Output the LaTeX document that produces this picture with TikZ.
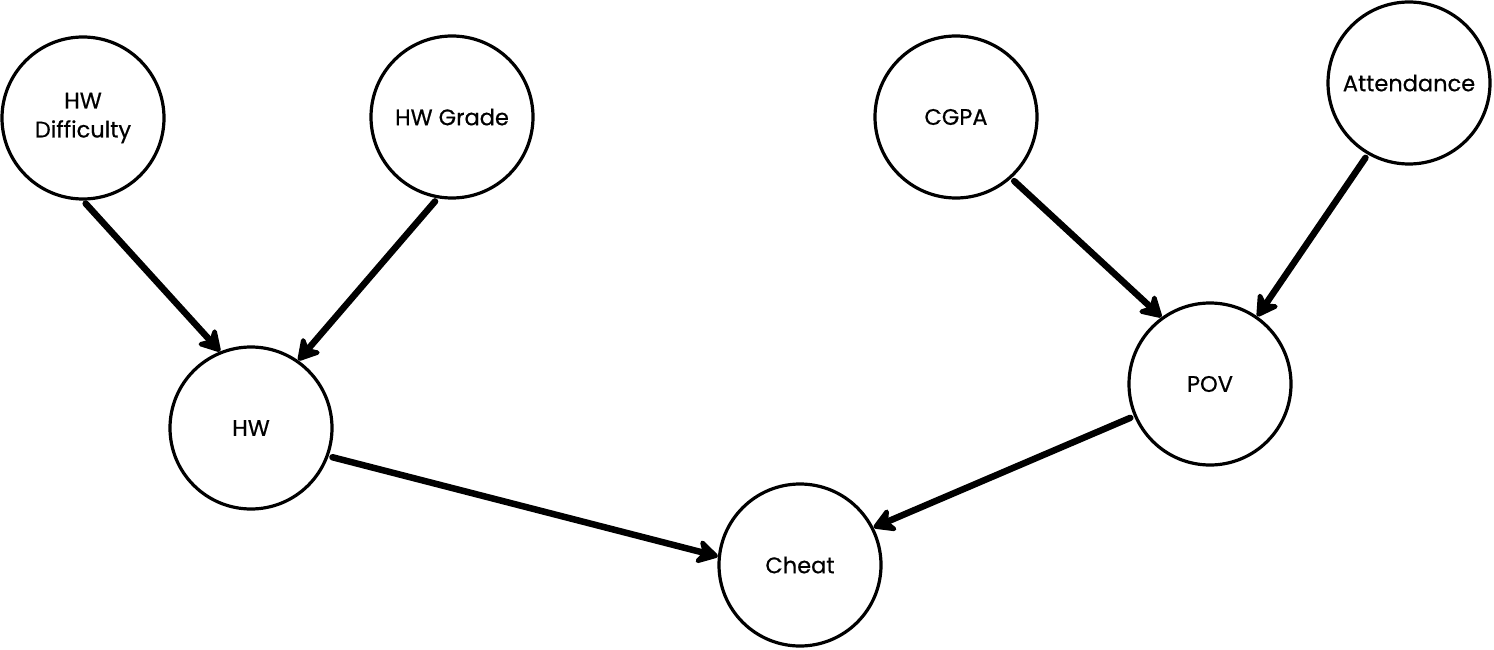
\documentclass[tikz,border=0pt]{standalone}
\usepackage{fontspec}
\setmainfont{Poppins}
\newfontfamily\labfont[FakeBold=0.6]{Poppins}
\usetikzlibrary{arrows.meta}
\begin{document}
\begin{tikzpicture}[x=1pt,y=-1pt,
  var/.style={circle,draw=black,line width=3.2pt,minimum size=162pt,inner sep=0pt,align=center,font=\labfont\fontsize{22.5}{29}\selectfont},
  arr/.style={line width=6.5pt,line cap=round,-{Stealth[length=26pt,width=30pt,inset=8pt,round]},shorten <=4pt}]
\useasboundingbox (0,0) rectangle (1494,650);
\fill[white] (0,0) rectangle (1494,650);
\node[var] (hwd) at (83,118) {HW\\Difficulty};
\node[var] (hwg) at (452,117) {HW Grade};
\node[var] (cgpa) at (956,117) {CGPA};
\node[var] (att) at (1409,83) {Attendance};
\node[var] (hw) at (251,428) {HW};
\node[var] (pov) at (1210,384) {POV};
\node[var] (cheat) at (800,565) {Cheat};
\draw[arr] (hwd.-90) -- (hw.112);
\draw[arr] (hwg.260) -- (hw.55);
\draw[arr] (hw.-20) -- (cheat.174);
\draw[arr] (pov.203) -- (cheat.27);
\draw[arr] (cgpa.-48) -- (pov.126);
\draw[arr] (att.-120) -- (pov.55);
\end{tikzpicture}
\end{document}
